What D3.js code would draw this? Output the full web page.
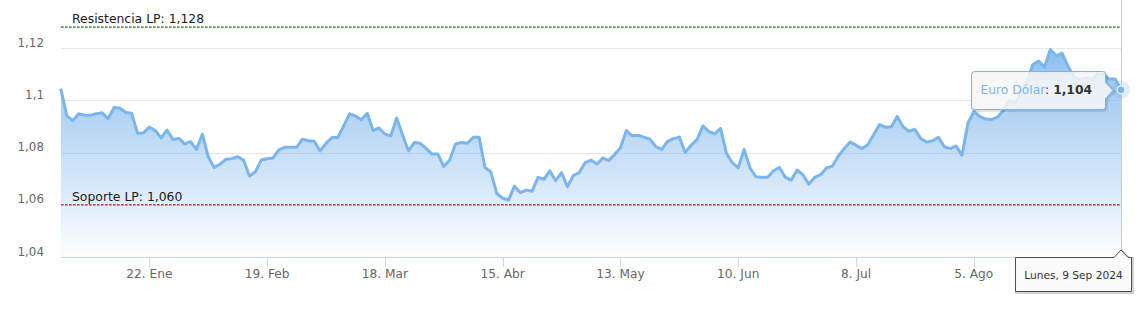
<!DOCTYPE html>
<html lang="es">
<head>
<meta charset="utf-8">
<title>Euro Dólar</title>
<script src="https://cdn.jsdelivr.net/npm/d3@7"></script>
<style>
  html, body { margin: 0; padding: 0; background: #fff; }
  svg { display: block; font-family: "DejaVu Sans", Verdana, sans-serif; }
</style>
</head>
<body>
<svg id="eurusd-svg"></svg>
<script>
// ---- data ----
const seriesName = "Euro Dólar";
const firstDay = "2024-01-01";
const lastDay = "2024-09-09";

// daily close, one value per weekday from firstDay to lastDay
const eurUsd = [
  1.104, 1.094, 1.0922, 1.0948, 1.0943, 1.0943, 1.0948, 1.0952, 1.0929, 1.0972,
  1.097, 1.0953, 1.095, 1.0874, 1.0875, 1.0897, 1.0884, 1.0856, 1.0886, 1.085,
  1.0854, 1.0833, 1.0842, 1.0812, 1.087, 1.0784, 1.0743, 1.0755, 1.0774, 1.0776,
  1.0784, 1.0771, 1.071, 1.0726, 1.0771, 1.0776, 1.0779, 1.081, 1.082, 1.082,
  1.082, 1.0851, 1.0845, 1.0843, 1.0806, 1.0835, 1.0857, 1.0857, 1.0902, 1.0948,
  1.094, 1.0925, 1.095, 1.0884, 1.0894, 1.0871, 1.0863, 1.0932, 1.0867, 1.0806,
  1.0838, 1.0835, 1.0816, 1.0794, 1.0794, 1.0746, 1.0771, 1.0833, 1.0838, 1.0835,
  1.0858, 1.0858, 1.0743, 1.0725, 1.0643, 1.0625, 1.0618, 1.0671, 1.0646, 1.0656,
  1.0652, 1.0705, 1.0697, 1.073, 1.0692, 1.0723, 1.0669, 1.0712, 1.0723, 1.0761,
  1.0771, 1.0755, 1.0779, 1.0769, 1.0792, 1.0818, 1.0884, 1.0864, 1.0866, 1.0859,
  1.0851, 1.0823, 1.0812, 1.0843, 1.0853, 1.0859, 1.08, 1.0828, 1.0849, 1.0902,
  1.0881, 1.0871, 1.0892, 1.0797, 1.0761, 1.0741, 1.0812, 1.0741, 1.0707, 1.0705,
  1.0705, 1.073, 1.0743, 1.0705, 1.0694, 1.0733, 1.0714, 1.0679, 1.0705, 1.0715,
  1.0741, 1.0748, 1.0787, 1.0815, 1.084, 1.0828, 1.0815, 1.083, 1.0868, 1.0907,
  1.0897, 1.0899, 1.0938, 1.0899, 1.0881, 1.0889, 1.0853, 1.084, 1.0845, 1.0858,
  1.0822, 1.0815, 1.0825, 1.079, 1.0912, 1.0957, 1.0938, 1.0928, 1.0926, 1.0935,
  1.096, 1.100, 1.099, 1.103, 1.107, 1.1136, 1.115, 1.1127, 1.1194, 1.117,
  1.118, 1.113, 1.109, 1.108, 1.1085, 1.108, 1.110, 1.1098, 1.1081, 1.1081,
  1.104
];

const yTicks = [1.04, 1.06, 1.08, 1.10, 1.12];
const xTickDates = ["2024-01-22", "2024-02-19", "2024-03-18", "2024-04-15",
  "2024-05-13", "2024-06-10", "2024-07-08", "2024-08-05", "2024-09-02"];
const monthsEs = ["Ene", "Feb", "Mar", "Abr", "May", "Jun", "Jul", "Ago", "Sep", "Oct", "Nov", "Dic"];
const weekdaysEs = ["Domingo", "Lunes", "Martes", "Miércoles", "Jueves", "Viernes", "Sábado"];

const resistanceLP = 1.128;
const supportLP = 1.060;

document.addEventListener("DOMContentLoaded", () => {
  (function () {

    const W = 1139, H = 310;
    const plot = { left: 61, right: 1121, top: 0, bottom: 257 };
    const blue = "#7cb5ec";

    const svg = d3.select("#eurusd-svg")
      .attr("width", W)
      .attr("height", H);

    svg.selectAll("*").remove();

    // weekday calendar -> category keys
    const parseDay = d3.timeParse("%Y-%m-%d");
    const dayKey = d3.timeFormat("%Y-%m-%d");
    const days = d3.timeDay
      .range(parseDay(firstDay), d3.timeDay.offset(parseDay(lastDay), 1))
      .filter(d => d.getDay() !== 0 && d.getDay() !== 6);

    const data = eurUsd.map((v, i) => ({ date: days[i], key: dayKey(days[i]), value: v }));

    const es = d3.formatLocale({ decimal: ",", thousands: ".", grouping: [3], currency: ["", " €"] });
    const fmtAxis = es.format(".3~r");
    const fmt3 = es.format(".3f");

    const x = d3.scalePoint()
      .domain(data.map(d => d.key))
      .range([plot.left, plot.right]);

    const y = d3.scaleLinear()
      .domain([1.04, 1.12])
      .range([plot.bottom, 48]);

    const crisp = v => Math.round(v) + 0.5;

    // gradient for the area
    const defs = svg.append("defs");
    const grad = defs.append("linearGradient")
      .attr("id", "area-fill")
      .attr("x1", 0).attr("y1", 0).attr("x2", 0).attr("y2", 1);
    grad.append("stop").attr("offset", 0).attr("stop-color", blue).attr("stop-opacity", 0.85);
    grad.append("stop").attr("offset", 1).attr("stop-color", blue).attr("stop-opacity", 0.02);

    // grid
    svg.append("g")
      .selectAll("line")
      .data(yTicks)
      .join("line")
      .attr("x1", plot.left)
      .attr("x2", plot.right)
      .attr("y1", d => crisp(y(d)))
      .attr("y2", d => crisp(y(d)))
      .attr("stroke", "#e6e6e6")
      .attr("stroke-width", 1);

    // y labels
    svg.append("g")
      .selectAll("text")
      .data(yTicks)
      .join("text")
      .attr("x", 44)
      .attr("y", d => y(d) - 1.5)
      .attr("text-anchor", "end")
      .attr("font-size", "11.9px")
      .attr("fill", "#666")
      .text(d => fmtAxis(d));

    // area + line
    const area = d3.area()
      .x(d => x(d.key))
      .y0(y(1.04))
      .y1(d => y(d.value));

    const line = d3.line()
      .x(d => x(d.key))
      .y(d => y(d.value));

    svg.append("path")
      .datum(data)
      .attr("d", area)
      .attr("fill", "url(#area-fill)");

    svg.append("path")
      .datum(data)
      .attr("d", line)
      .attr("fill", "none")
      .attr("stroke", blue)
      .attr("stroke-width", 3)
      .attr("stroke-linejoin", "round")
      .attr("stroke-linecap", "round");

    // x axis
    svg.append("line")
      .attr("x1", plot.left).attr("x2", plot.right)
      .attr("y1", crisp(plot.bottom)).attr("y2", crisp(plot.bottom))
      .attr("stroke", "#ccd6eb");

    const xTicks = xTickDates.filter(k => x(k) !== undefined);
    const last = data[data.length - 1];
    const px = x(last.key);
    const py = y(last.value);

    svg.append("g")
      .selectAll("line")
      .data(xTicks)
      .join("line")
      .attr("x1", d => crisp(x(d)))
      .attr("x2", d => crisp(x(d)))
      .attr("y1", plot.bottom)
      .attr("y2", plot.bottom + 10)
      .attr("stroke", "#ccd6eb");

    // the label under the date box is covered by it, so leave it out
    svg.append("g")
      .selectAll("text")
      .data(xTicks.filter(k => x(k) < px - 90))
      .join("text")
      .attr("x", d => x(d))
      .attr("y", 278)
      .attr("text-anchor", "middle")
      .attr("font-size", "12.2px")
      .attr("fill", "#666")
      .text(d => {
        const t = parseDay(d);
        return t.getDate() + ". " + monthsEs[t.getMonth()];
      });

    // plot lines: resistance / support
    const plotLines = [
      { value: resistanceLP, label: "Resistencia LP: ", color: "#4f9a4f" },
      { value: supportLP, label: "Soporte LP: ", color: "#b0464f" }
    ];

    plotLines.forEach(p => {
      const ly = y(p.value);
      svg.append("line")
        .attr("x1", plot.left).attr("x2", plot.right)
        .attr("y1", ly).attr("y2", ly)
        .attr("stroke", p.color)
        .attr("stroke-width", 1.6)
        .attr("stroke-dasharray", "2.6,1.4");
      svg.append("text")
        .attr("x", plot.left + 11)
        .attr("y", ly - 4)
        .attr("font-size", "12.4px")
        .attr("fill", "#1a1a1a")
        .text(p.label + fmt3(p.value));
    });

    // hovered point (last one)
    svg.append("line")
      .attr("x1", crisp(px)).attr("x2", crisp(px))
      .attr("y1", plot.top).attr("y2", plot.bottom)
      .attr("stroke", "#cccccc")
      .attr("stroke-width", 1);

    svg.append("circle")
      .attr("cx", px).attr("cy", py).attr("r", 9)
      .attr("fill", blue).attr("fill-opacity", 0.25);

    svg.append("circle")
      .attr("cx", px).attr("cy", py).attr("r", 4)
      .attr("fill", blue)
      .attr("stroke", "#fff")
      .attr("stroke-width", 1);

    // series tooltip, to the left of the point
    const tip = svg.append("g");
    const tipShadow = tip.append("path");
    const tipBox = tip.append("path");
    const tipText = tip.append("text")
      .attr("font-size", "12.3px");
    tipText.append("tspan").attr("fill", blue).text(seriesName);
    tipText.append("tspan").attr("fill", "#333").text(": ");
    tipText.append("tspan").attr("fill", "#333").attr("font-weight", "bold").text(fmt3(last.value));

    const tw = tipText.node().getComputedTextLength();
    const bw = Math.round(tw + 22), bh = 38;
    const bRight = Math.round(px - 16) + 0.5;
    const bLeft = bRight - bw;
    const bTop = Math.round(py - bh / 2) + 0.5;
    const cy = bTop + bh / 2;
    const r = 3;

    const tipPath = d3.path();
    tipPath.moveTo(bLeft + r, bTop);
    tipPath.lineTo(bRight - r, bTop);
    tipPath.arcTo(bRight, bTop, bRight, bTop + r, r);
    tipPath.lineTo(bRight, cy - 8);
    tipPath.lineTo(px - 8, cy);
    tipPath.lineTo(bRight, cy + 8);
    tipPath.lineTo(bRight, bTop + bh - r);
    tipPath.arcTo(bRight, bTop + bh, bRight - r, bTop + bh, r);
    tipPath.lineTo(bLeft + r, bTop + bh);
    tipPath.arcTo(bLeft, bTop + bh, bLeft, bTop + bh - r, r);
    tipPath.lineTo(bLeft, bTop + r);
    tipPath.arcTo(bLeft, bTop, bLeft + r, bTop, r);
    tipPath.closePath();

    tipShadow.attr("d", tipPath.toString())
      .attr("transform", "translate(1,1)")
      .attr("fill", "none")
      .attr("stroke", "rgba(0,0,0,0.12)")
      .attr("stroke-width", 3);
    tipBox.attr("d", tipPath.toString())
      .attr("fill", "rgba(247,247,247,0.85)")
      .attr("stroke", blue)
      .attr("stroke-width", 1);
    tipText.attr("x", bLeft + 9).attr("y", cy + 3.5);

    // date label on the x axis
    const dateTip = svg.append("g");
    const dShadow = dateTip.append("path");
    const dBox = dateTip.append("path");
    const dText = dateTip.append("text")
      .attr("font-size", "10.6px")
      .attr("fill", "#333")
      .attr("text-anchor", "middle")
      .text(weekdaysEs[last.date.getDay()] + ", " + last.date.getDate() + " " +
        monthsEs[last.date.getMonth()] + " " + last.date.getFullYear());

    const dw = Math.round(dText.node().getComputedTextLength() + 18), dh = 34;
    const dRight = Math.min(Math.round(px + dw / 2), W - 8) + 0.5;
    const dLeft = dRight - dw;
    const dTop = plot.bottom + 0.5;

    const dPath = d3.path();
    dPath.moveTo(dLeft, dTop);
    dPath.lineTo(px - 7, dTop);
    dPath.lineTo(px, dTop - 7.5);
    dPath.lineTo(px + 7, dTop);
    dPath.lineTo(dRight, dTop);
    dPath.lineTo(dRight, dTop + dh);
    dPath.lineTo(dLeft, dTop + dh);
    dPath.closePath();

    dShadow.attr("d", dPath.toString())
      .attr("transform", "translate(1,1)")
      .attr("fill", "none")
      .attr("stroke", "rgba(0,0,0,0.18)")
      .attr("stroke-width", 3);
    dBox.attr("d", dPath.toString())
      .attr("fill", "rgba(250,250,250,0.95)")
      .attr("stroke", "#4d4d4d")
      .attr("stroke-width", 1);
    dText.attr("x", (dLeft + dRight) / 2).attr("y", 278.5);

  })();
});
</script>
</body>
</html>
